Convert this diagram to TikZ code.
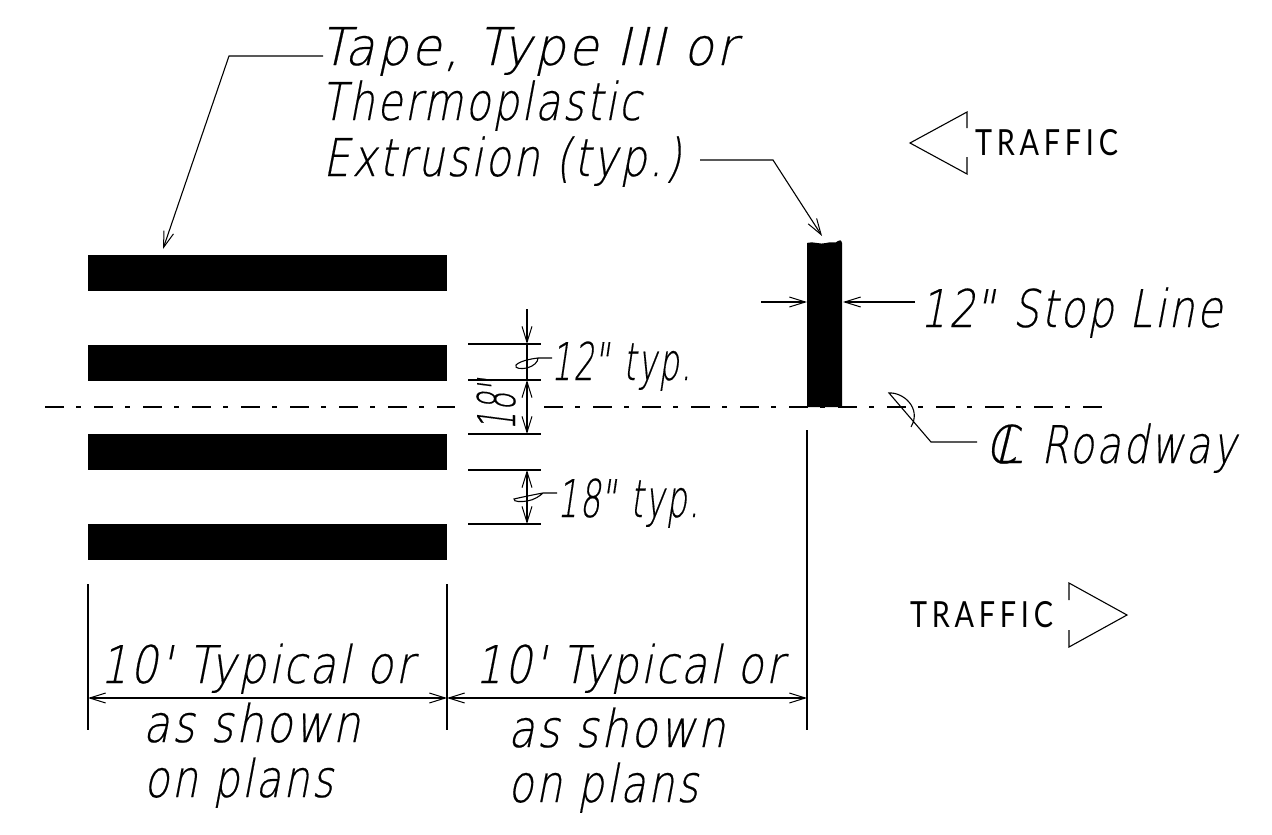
\documentclass[tikz,border=0pt]{standalone}
\usepackage{fontspec}
\usepackage{graphicx}
\setmainfont{Liberation Sans}
\newfontfamily\cadit[FakeSlant=0.2,FakeStretch=0.84,FakeBold=0.35,LetterSpace=5]{DejaVu Sans ExtraLight}
\newfontfamily\cadup[FakeStretch=0.85,LetterSpace=14]{Lato}
\newcommand{\lab}[5][]{\node[anchor=base west,inner sep=0pt,outer sep=0pt,#1] (#2) at (#3) {\resizebox{#4pt}{\height}{\cadit\fontsize{52}{52}\selectfont #5}};}
\newcommand{\labup}[4]{\node[anchor=base west,inner sep=0pt,outer sep=0pt] (#1) at (#2) {\resizebox{#3pt}{\height}{\cadup\fontsize{36}{36}\selectfont #4}};}
\usetikzlibrary{arrows.meta}
\tikzset{
 thin line/.style={draw=black,line width=1.1pt},
 bar/.style={fill=black,draw=none},
 center line/.style={draw=black,line width=1.1pt,dash pattern=on 19pt off 12pt on 5pt off 13pt},
 openhead/.style={-{Straight Barb[length=16pt,width=10pt,line width=1pt]}},
 dimboth/.style={{Straight Barb[length=16pt,width=10pt,line width=1pt]}-{Straight Barb[length=16pt,width=10pt,line width=1pt]}},
}
\begin{document}
\begin{tikzpicture}[x=1pt,y=-1pt]
\useasboundingbox (0,0) rectangle (1272,835);
% bars
\fill[bar] (88,255) rectangle (447,291);
\fill[bar] (88,345) rectangle (447,381);
\fill[bar] (88,434) rectangle (447,470);
\fill[bar] (88,524) rectangle (447,560);
\fill[bar] (807,243) .. controls (815,241) and (820,245) .. (826,243) .. controls (831,241) and (836,244) .. (838,241) .. controls (841,240) .. (842,243) -- (842,407) -- (807,407) -- cycle;
% centre line
\coordinate (c1) at (45,407); \coordinate (c2) at (455,407);
\coordinate (c3) at (544,407); \coordinate (c4) at (1102,407);
\draw[center line] (c1) -- (c2);
\draw[center line] (c3) -- (c4);
% extension lines
\draw[thin line] (88,584) -- (88,730);
\draw[thin line] (447,584) -- (447,730);
\draw[thin line] (807,430) -- (807,730);
\coordinate (d1) at (88,698); \coordinate (d2) at (447,698); \coordinate (d3) at (807,698);
\draw[thin line,dimboth] (d1) -- (d2);
\draw[thin line,dimboth] (d2) -- (d3);
% vertical dims
\draw[thin line] (468,344) -- (541,344);
\draw[thin line] (468,380) -- (541,380);
\draw[thin line] (468,434) -- (541,434);
\draw[thin line] (468,470) -- (541,470);
\draw[thin line] (468,524) -- (541,524);
\coordinate (t1) at (527,309); \coordinate (t2) at (527,344); \coordinate (t3) at (527,380); \coordinate (t4) at (527,434); \coordinate (t5) at (527,470); \coordinate (t6) at (527,524);
\draw[thin line,openhead] (t1) -- (t2);
\draw[thin line] (t2) -- (t3);
\draw[thin line,dimboth] (t3) -- (t4);
\draw[thin line,dimboth] (t5) -- (t6);
% small leaders
\draw[thin line] (552,358) -- (538,358) .. controls (530,359) and (520,361) .. (516,365) .. controls (514,369) and (522,369) .. (527,368) .. controls (534,366) and (538,362) .. (538,358);
\draw[thin line] (557,493) -- (543,493) .. controls (532,495) and (518,498) .. (514,499) .. controls (513,502) and (522,502) .. (527,501) .. controls (534,500) and (540,496) .. (543,493);
% text
\lab{tA}{320,65}{416}{Tape, Type III or}
\lab{tB}{321,120}{320}{Thermoplastic}
\lab{tC}{323,176}{358}{Extrusion (typ.)}
\lab{t12}{551,380}{140}{12\textquotedbl{} typ.}
\lab{t18}{557,517}{142}{18\textquotedbl{} typ.}
\lab[rotate=90]{t18v}{515,430}{53}{18\textquotedbl}
\lab{tS}{920,327}{302}{12\textquotedbl{} Stop Line}
\lab{tR}{1041,463}{195}{Roadway}
\lab{tCa}{985,463}{32}{C}
\lab{tCb}{993,463}{30}{L}
\lab{tT1}{100,683}{313}{10' Typical or}
\lab{tT2}{143,742}{217}{as shown}
\lab{tT3}{144,797}{189}{on plans}
\lab{tT4}{475,683}{308}{10' Typical or}
\lab{tT5}{508,747}{217}{as shown}
\lab{tT6}{508,802}{190}{on plans}
\labup{tX1}{975,155}{143}{TRAFFIC}
\labup{tX2}{910,627}{143}{TRAFFIC}
% leaders
\coordinate (l1) at (323,56); \coordinate (l2) at (229,56); \coordinate (l3) at (163,249);
\draw[thin line,openhead] (l1) -- (l2) -- (l3);
\coordinate (l4) at (700,160); \coordinate (l5) at (773,160); \coordinate (l6) at (822,236);
\draw[thin line,openhead] (l4) -- (l5) -- (l6);
\coordinate (s1) at (761,302); \coordinate (s2) at (807,302); \coordinate (s3) at (915,302); \coordinate (s4) at (843,302);
\draw[thin line,openhead] (s1) -- (s2);
\draw[thin line,openhead] (s3) -- (s4);
% roadway
\draw[thin line] (977,442) -- (931,442) -- (889,393) .. controls (903,392) and (922,408) .. (911,427);
% traffic arrows
\draw[thin line] (967,128) -- (967,112) -- (910,143) -- (967,174) -- (967,157);
\draw[thin line] (1069,600) -- (1069,583) -- (1127,615) -- (1069,647) -- (1069,630);
\end{tikzpicture}
\end{document}
